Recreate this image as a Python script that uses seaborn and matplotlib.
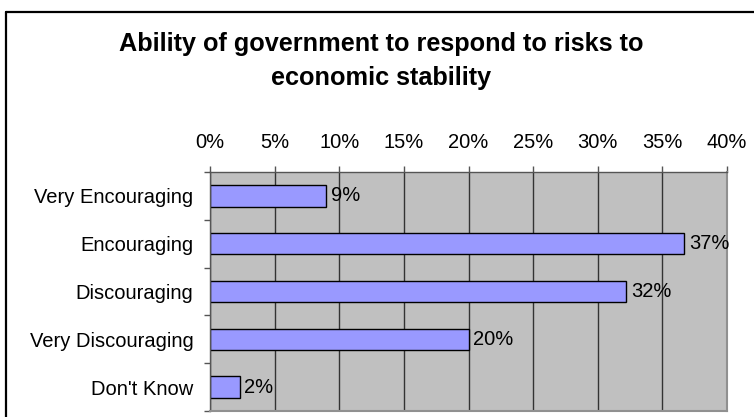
import matplotlib
matplotlib.use("Agg")
import matplotlib.pyplot as plt
import seaborn as sns
import pandas as pd
from matplotlib.ticker import FixedLocator
from matplotlib.lines import Line2D

categories = ["Very Encouraging", "Encouraging", "Discouraging", "Very Discouraging", "Don't Know"]
values = [9.0, 36.7, 32.2, 20.0, 2.3]
value_labels = ["9%", "37%", "32%", "20%", "2%"]
x_ticks = [0, 5, 10, 15, 20, 25, 30, 35, 40]
x_tick_labels = ["0%", "5%", "10%", "15%", "20%", "25%", "30%", "35%", "40%"]
title = "Ability of government to respond to risks to\neconomic stability"

df = pd.DataFrame({"category": categories, "value": values})

sns.set_theme(style="white")
plt.rcParams["font.family"] = ["Liberation Sans", "DejaVu Sans"]
plt.rcParams["text.color"] = "black"
plt.rcParams["xtick.labelcolor"] = "black"
plt.rcParams["ytick.labelcolor"] = "black"

W, H = 754, 417
fig = plt.figure(figsize=(W / 100, H / 100), dpi=100)
fig.patch.set_facecolor("white")

# chart-area border (left and top edges visible; right/bottom cut off)
fig.add_artist(Line2D([5.5 / W, 5.5 / W], [0, 1 - 11.5 / H], transform=fig.transFigure,
                      color="black", linewidth=1.6))
fig.add_artist(Line2D([5.5 / W, 1], [1 - 11.5 / H, 1 - 11.5 / H], transform=fig.transFigure,
                      color="black", linewidth=1.6))

ax = fig.add_axes([210 / W, 1 - 411 / H, (727 - 210) / W, (411 - 172) / H])
ax.set_facecolor("#c0c0c0")

sns.barplot(data=df, x="value", y="category", orient="h", ax=ax,
            color="#9999ff", edgecolor="black", linewidth=1.0, width=0.45,
            saturation=1)

fs = 14.5
ax.set_xlim(0, 40)
ax.set_ylim(len(categories) - 0.5, -0.5)
ax.set_xticks(x_ticks)
ax.set_xticklabels(x_tick_labels, fontsize=fs, color="black")
ax.xaxis.tick_top()
ax.tick_params(axis="x", which="both", top=True, bottom=False, length=4.3,
               width=1, color="#555555", labelcolor="black", pad=10)
ax.grid(axis="x", color="#333333", linewidth=1)
ax.set_axisbelow(True)

ax.set_yticks(range(len(categories)))
ax.set_yticklabels(categories, fontsize=fs, color="black")
ax.tick_params(axis="y", which="major", length=0, pad=12, labelcolor="black")
ax.yaxis.set_minor_locator(FixedLocator([i - 0.5 for i in range(len(categories) + 1)]))
ax.tick_params(axis="y", which="minor", left=True, length=4.3, width=1, color="#555555")

ax.set_xlabel("")
ax.set_ylabel("")
for side in ["top", "left"]:
    ax.spines[side].set_color("#555555")
    ax.spines[side].set_linewidth(1)
for side in ["right", "bottom"]:
    ax.spines[side].set_color("#909090")
    ax.spines[side].set_linewidth(1.5)

for i, (v, lab) in enumerate(zip(values, value_labels)):
    ax.text(v + 0.35, i, lab, ha="left", va="center", fontsize=fs, color="black")

fig.text(381 / W, 1 - 61 / H, title, ha="center", va="center", fontsize=18.2,
         fontweight="bold", linespacing=1.5, color="black")

fig.savefig("out.png", dpi=100, facecolor="white")
